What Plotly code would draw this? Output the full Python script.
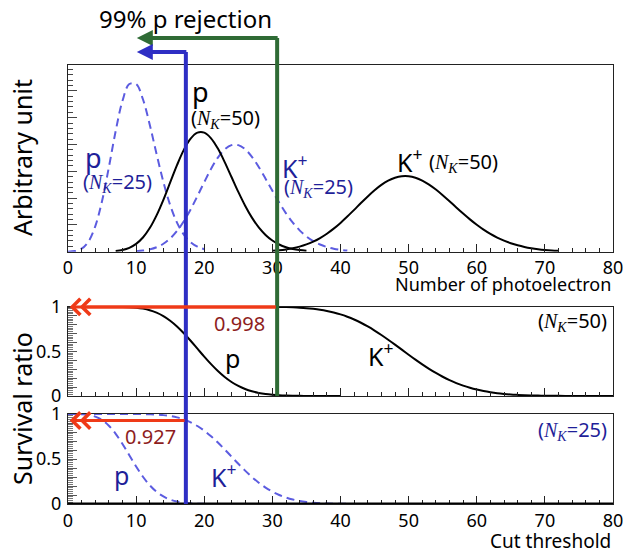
import plotly.graph_objects as go

# ---------------- data ----------------
# Photoelectron spectra (arbitrary units) at integer photoelectron counts
npe_p25 = list(range(0, 21))
spec_p25 = [0.00005, 0.00045, 0.00227, 0.00757, 0.01892, 0.03783, 0.06306, 0.09008,
            0.11260, 0.12511, 0.12511, 0.11374, 0.09478, 0.07291, 0.05208, 0.03472,
            0.02170, 0.01276, 0.00709, 0.00373, 0.00187]

npe_k25 = list(range(10, 42))
spec_k25 = [0.00037, 0.00083, 0.00173, 0.00332, 0.00593, 0.00989, 0.01545, 0.02272,
            0.03156, 0.04153, 0.05191, 0.06179, 0.07022, 0.07633, 0.07951, 0.07951,
            0.07645, 0.07079, 0.06320, 0.05448, 0.04540, 0.03662, 0.02861, 0.02167,
            0.01594, 0.01138, 0.00790, 0.00534, 0.00351, 0.00225, 0.00141, 0.00086]

npe_p50 = list(range(7, 36))
spec_p50 = [0.00052, 0.00131, 0.00291, 0.00582, 0.01058, 0.01763, 0.02712, 0.03874,
            0.05165, 0.06456, 0.07595, 0.08439, 0.08884, 0.08884, 0.08461, 0.07691,
            0.06688, 0.05574, 0.04459, 0.03430, 0.02541, 0.01815, 0.01252, 0.00834,
            0.00538, 0.00336, 0.00204, 0.00120, 0.00069]

npe_k50 = list(range(30, 73))
spec_k50 = [0.00068, 0.00109, 0.00171, 0.00259, 0.00380, 0.00543, 0.00755, 0.01020,
            0.01342, 0.01720, 0.02150, 0.02622, 0.03121, 0.03630, 0.04124, 0.04583,
            0.04981, 0.05299, 0.05520, 0.05633, 0.05633, 0.05522, 0.05310, 0.05009,
            0.04638, 0.04216, 0.03765, 0.03302, 0.02847, 0.02413, 0.02010, 0.01648,
            0.01329, 0.01055, 0.00824, 0.00634, 0.00480, 0.00358, 0.00264, 0.00191,
            0.00136, 0.00096, 0.00067]

# Survival ratio versus cut threshold, N_K = 50
cut_p50 = list(range(0, 41))
surv_p50 = [1.0, 1.0, 1.0, 1.0, 1.0, 1.0, 0.9997, 0.9992, 0.9979, 0.9950, 0.9892,
            0.9786, 0.9610, 0.9339, 0.8951, 0.8435, 0.7789, 0.7030, 0.6186, 0.5297,
            0.4409, 0.3563, 0.2794, 0.2125, 0.1568, 0.1122, 0.0779, 0.0525, 0.0343,
            0.0218, 0.0135, 0.0081, 0.0047, 0.0027, 0.0015, 0.0008, 0.0004, 0.0002,
            0.0001, 0.0, 0.0]

cut_k50 = list(range(20, 81))
surv_k50 = [1.0, 1.0, 1.0, 1.0, 1.0, 1.0, 0.9999, 0.9998, 0.9996, 0.9991, 0.9985,
            0.9974, 0.9957, 0.9931, 0.9893, 0.9839, 0.9763, 0.9661, 0.9527, 0.9355,
            0.9140, 0.8878, 0.8566, 0.8203, 0.7790, 0.7332, 0.6834, 0.6304, 0.5752,
            0.5189, 0.4625, 0.4073, 0.3542, 0.3041, 0.2578, 0.2156, 0.1779, 0.1449,
            0.1164, 0.0923, 0.0722, 0.0557, 0.0425, 0.0319, 0.0237, 0.0173, 0.0125,
            0.0089, 0.0063, 0.0044, 0.0030, 0.0021, 0.0014, 0.0010, 0.0006, 0.0004,
            0.0003, 0.0002, 0.0001, 0.0001, 0.0]

# Survival ratio versus cut threshold, N_K = 25
cut_p25 = list(range(0, 25))
surv_p25 = [1.0, 0.9995, 0.9972, 0.9897, 0.9707, 0.9329, 0.8699, 0.7798, 0.6672,
            0.5421, 0.4170, 0.3032, 0.2084, 0.1355, 0.0835, 0.0487, 0.0270, 0.0143,
            0.0072, 0.0035, 0.0016, 0.0007, 0.0003, 0.0001, 0.0]

cut_k25 = list(range(0, 46))
surv_k25 = [1.0, 1.0, 1.0, 1.0, 1.0, 1.0, 1.0, 0.9999, 0.9999, 0.9998, 0.9994, 0.9986,
            0.9968, 0.9935, 0.9876, 0.9777, 0.9623, 0.9395, 0.9080, 0.8664, 0.8145,
            0.7527, 0.6825, 0.6062, 0.5267, 0.4472, 0.3707, 0.3000, 0.2368, 0.1823,
            0.1369, 0.1002, 0.0716, 0.0500, 0.0340, 0.0227, 0.0148, 0.0094, 0.0059,
            0.0036, 0.0022, 0.0014, 0.0009, 0.0005, 0.0003, 0.0002]

# Cuts giving 99% proton rejection and the kaon survival there
cut_nk50 = 30.7
cut_nk25 = 17.3
kaon_surv_nk50 = 0.998
kaon_surv_nk25 = 0.927

x_ticks = [0, 10, 20, 30, 40, 50, 60, 70, 80]

# ---------------- style ----------------
FONT = "Noto Sans"
SERIF = "Liberation Serif"
BLACK = "#000000"
BLUE_LINE = "#2e2ec4"
BLUE_TEXT = "#1f1f99"
BLUE_DASH = "#5c5ce0"
GREEN = "#2f6b35"
RED = "#ef3a18"
DARK_RED = "#8e1d1d"
AX = "#222222"
YMAX_TOP = 0.1393

W, H = 623, 554
ML, MR, MT, MB = 68, 10, 65, 50
PW = W - ML - MR
PH = H - MT - MB


def py(pix):
    """Convert a pixel row into paper y."""
    return (H - MB - pix) / PH


def nk(val):
    return ('(<span style="font-family:%s"><i>N</i><sub><i>K</i></sub></span>=%d)'
            % (SERIF, val))


fig = go.Figure()

solid = dict(color=BLACK, width=2, shape="spline", smoothing=1.0)
dashed = dict(color=BLUE_DASH, width=2, dash="8px,5px", shape="spline", smoothing=1.0)

fig.add_trace(go.Scatter(x=npe_p25, y=spec_p25, mode="lines", line=dashed, xaxis="x", yaxis="y"))
fig.add_trace(go.Scatter(x=npe_k25, y=spec_k25, mode="lines", line=dashed, xaxis="x", yaxis="y"))
fig.add_trace(go.Scatter(x=npe_p50, y=spec_p50, mode="lines", line=solid, xaxis="x", yaxis="y"))
fig.add_trace(go.Scatter(x=npe_k50, y=spec_k50, mode="lines", line=solid, xaxis="x", yaxis="y"))

fig.add_trace(go.Scatter(x=cut_p50, y=surv_p50, mode="lines", line=solid, xaxis="x2", yaxis="y2"))
fig.add_trace(go.Scatter(x=cut_k50, y=surv_k50, mode="lines", line=solid, xaxis="x2", yaxis="y2"))

fig.add_trace(go.Scatter(x=cut_p25, y=surv_p25, mode="lines", line=dashed, xaxis="x3", yaxis="y3"))
fig.add_trace(go.Scatter(x=cut_k25, y=surv_k25, mode="lines", line=dashed, xaxis="x3", yaxis="y3"))

top_dom = [py(251.7), 1.0]
mid_dom = [py(396.0), py(306.7)]
bot_dom = [0.0, py(414.0)]

xcommon = dict(range=[0, 80], showgrid=False, zeroline=False, showline=True,
               linecolor=AX, linewidth=1, mirror=True, ticks="inside", automargin=False,
               ticklabeloverflow="allow",
               tickcolor=AX, ticklen=8, tickwidth=1, tickvals=x_ticks,
               tickfont=dict(family=FONT, size=18, color=BLACK),
               minor=dict(dtick=2, ticks="inside", ticklen=4, tickcolor=AX))

surv_vals = [i / 10 for i in range(11)]
surv_text = ["0" if v == 0 else "0.5" if v == 0.5 else "1" if v == 1 else "" for v in surv_vals]
ysurv = dict(range=[0, 1], showgrid=False, zeroline=False, showline=True, automargin=False,
             linecolor=AX, linewidth=1, mirror=True, ticks="inside",
             tickcolor="#555555", ticklen=9, tickvals=surv_vals, ticktext=surv_text,
             tickfont=dict(family=FONT, size=18, color=BLACK), ticklabelstandoff=2,
             minor=dict(dtick=0.02, ticks="inside", ticklen=5, tickcolor="#777777"))

fig.update_layout(
    width=W, height=H, margin=dict(l=ML, r=MR, t=MT, b=MB, autoexpand=False),
    paper_bgcolor="white", plot_bgcolor="white", showlegend=False,
    xaxis=dict(xcommon, domain=[0, 1], anchor="y", showticklabels=True),
    yaxis=dict(domain=top_dom, anchor="x", range=[0, YMAX_TOP], showgrid=False,
               zeroline=False, showline=True, linecolor=AX, linewidth=1, mirror=True,
               ticks="inside", tickcolor="#444444", ticklen=9, dtick=0.02,
               showticklabels=False, automargin=False,
               minor=dict(dtick=0.004, ticks="inside", ticklen=5, tickcolor="#444444")),
    xaxis2=dict(xcommon, domain=[0, 1], anchor="y2", showticklabels=False),
    yaxis2=dict(ysurv, domain=mid_dom, anchor="x2"),
    xaxis3=dict(xcommon, domain=[0, 1], anchor="y3", showticklabels=True),
    yaxis3=dict(ysurv, domain=bot_dom, anchor="x3"),
)

# Thick baseline along the lowest panel
fig.add_shape(type="line", xref="x3", yref="y3", x0=0, x1=80, y0=0, y1=0,
              line=dict(color=BLACK, width=3))

# Cut lines running through the panels
fig.add_shape(type="line", xref="x", yref="paper", x0=cut_nk50, x1=cut_nk50,
              y0=mid_dom[0], y1=py(38), line=dict(color=GREEN, width=4))
fig.add_shape(type="line", xref="x", yref="paper", x0=cut_nk25, x1=cut_nk25,
              y0=0, y1=py(52), line=dict(color=BLUE_LINE, width=4))

ann = []
# Leftward arrows at the top of the cut lines
arrow_tip = 10.1
for cut, row, col in ((cut_nk50, 38, GREEN), (cut_nk25, 52, BLUE_LINE)):
    tail_px = (cut - arrow_tip) / 80 * PW + 2
    ann.append(dict(x=arrow_tip, y=py(row), xref="x", yref="paper", ax=tail_px, ay=0,
                    axref="pixel", ayref="pixel", showarrow=True, arrowhead=2,
                    arrowsize=0.8, arrowwidth=4, arrowcolor=col, text=""))

# Red double-chevron arrows at the kaon survival values
for xr, yr, val, cut in (("x2", "y2", kaon_surv_nk50, cut_nk50),
                         ("x3", "y3", kaon_surv_nk25, cut_nk25)):
    for tip in (0.25, 1.7):
        ann.append(dict(x=tip, y=val, xref=xr, yref=yr, ax=cut, ay=val, axref=xr, ayref=yr,
                        showarrow=True, arrowhead=4, arrowsize=1.05, arrowwidth=3,
                        arrowcolor=RED, text=""))


def label(text, x, y, xref, yref, size, color, xanchor="center", yanchor="middle", angle=0):
    ann.append(dict(text=text, x=x, y=y, xref=xref, yref=yref, showarrow=False,
                    xanchor=xanchor, yanchor=yanchor, textangle=angle,
                    font=dict(family=FONT, size=size, color=color)))


def ty(pix):
    """Pixel row to top-panel data value."""
    return (251.7 - pix) / 186.7 * YMAX_TOP


label("99% p rejection", (185 - ML) / PW, py(18), "paper", "paper", 24, BLACK)
label("Arbitrary unit", (22 - ML) / PW, py(158), "paper", "paper", 25, BLACK, angle=-90)
label("Survival ratio", (22 - ML) / PW, py(409), "paper", "paper", 25, BLACK, angle=-90)
label("Number of photoelectron", 1.0, py(284), "paper", "paper", 18, BLACK, xanchor="right")
label("Cut threshold", 1.0, py(541), "paper", "paper", 19, BLACK, xanchor="right")

# Top panel labels
label("p", 19.5, ty(91), "x", "y", 27, BLACK)
label(nk(50), 23.1, ty(118), "x", "y", 20, BLACK)
label("p", 3.7, ty(157), "x", "y", 27, BLUE_TEXT)
label(nk(25), 7.3, ty(182), "x", "y", 20, BLUE_TEXT)
label("K<sup>+</sup>", 33.3, ty(166), "x", "y", 25, BLUE_TEXT)
label(nk(25), 36.7, ty(187), "x", "y", 20, BLUE_TEXT)
label("K<sup>+</sup>", 50.2, ty(160), "x", "y", 25, BLACK)
label(nk(50), 58.0, ty(162), "x", "y", 20, BLACK)

# Middle panel labels
label("%.3f" % kaon_surv_nk50, 25.2, 0.814, "x2", "y2", 20, DARK_RED)
label("p", 24.2, 0.42, "x2", "y2", 25, BLACK)
label("K<sup>+</sup>", 46.0, 0.46, "x2", "y2", 25, BLACK)
label(nk(50), 79.4, 0.84, "x2", "y2", 20, BLACK, xanchor="right")

# Bottom panel labels
label("%.3f" % kaon_surv_nk25, 12.1, 0.754, "x3", "y3", 20, DARK_RED)
label("p", 7.8, 0.32, "x3", "y3", 25, BLUE_TEXT)
label("K<sup>+</sup>", 22.9, 0.32, "x3", "y3", 25, BLUE_TEXT)
label(nk(25), 79.4, 0.82, "x3", "y3", 20, BLUE_TEXT, xanchor="right")

fig.update_layout(annotations=ann)

fig.write_html("out.html")
